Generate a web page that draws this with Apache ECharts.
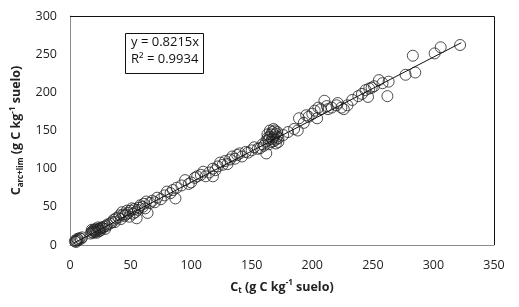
<!DOCTYPE html>
<html lang="es">
<head>
    <meta charset="UTF-8">
    <title>Carbono</title>
    <script src="https://cdn.jsdelivr.net/npm/echarts@6/dist/echarts.min.js"></script>
    <style>
        html, body { margin: 0; padding: 0; background: #fff; }
        #chart { width: 519px; height: 307px; }
    </style>
</head>
<body>
    <div id="chart"></div>
    <script>
// puntos: [Ct, Carc+lim]
const puntos = [
    [4,5],[5,6],[6,8],[7,7],[8,9],[9,8],[10,10],[6,6],[5,4],
    [17,15],[18,17],[19,16],[20,18],[21,17],[22,19],[20,20],[23,20],[24,21],[25,22],[19,19],[21,21],
    [22,16],[24,18],[26,23],[27,22],[28,24],[30,25],[31,27],[29,21],[18,20],[25,19],[23,23],
    [33,28],[35,30],[36,33],[38,35],[40,36],[42,34],[43,43],[45,38],[46,40],[48,42],[50,45],[52,41],
    [53,47],[55,35],[56,46],[58,52],[60,50],[62,48],[64,42],[66,55],[68,58],[70,56],[72,62],[75,60],
    [78,65],[80,70],[83,68],[85,72],[87,61],[88,75],
    [37,30],[41,39],[47,45],[49,37],[54,43],[44,40],[51,48],[57,49],[61,54],[63,57],
    [92,78],[95,85],[98,80],[100,82],[103,88],[105,90],[108,92],[110,96],[112,90],[115,95],[118,90],
    [118,100],[120,98],[122,103],[124,108],[126,105],[128,110],[130,106],[132,112],[134,116],[136,113],
    [138,118],[140,120],[142,116],[145,122],[147,121],[150,124],[152,128],[155,126],[157,127],[159,132],
    [160,130],[162,120],[162,136],
    [163,140],[164,138],[165,142],[166,135],[166,145],[167,139],[167,148],[168,141],[168,136],[169,144],
    [169,150],[170,138],[170,146],[171,142],[172,140],[165,150],[168,152],[171,148],[164,132],[172,135],
    [163,145],[170,133],
    [176,144],[180,148],[185,152],[188,150],[189,166],[193,160],[195,170],[197,168],[200,172],[202,176],
    [204,166],[205,180],[207,178],[210,189],[212,182],[213,178],[216,180],[220,183],[221,186],[224,180],
    [226,178],[229,183],[233,190],[238,195],[241,198],[244,203],[246,194],[247,205],[249,206],[251,208],
    [255,216],[258,212],[262,195],[263,214],[277,223],[283,248],[285,226],[301,251],[306,259],[322,262]
];

// extremos de la linea de tendencia (y = 0.8215x)
const tendencia = [[3, 2.5], [323, 265]];

const xTicks = [0, 50, 100, 150, 200, 250, 300, 350];
const yTicks = [0, 50, 100, 150, 200, 250, 300];

const fuente = 'Open Sans';

const estiloNombre = {
    b: { fontSize: 12.5, fontWeight: 'bold', color: '#222', fontFamily: fuente, lineHeight: 16 },
    s: { fontSize: 8, fontWeight: 'bold', color: '#222', fontFamily: fuente, verticalAlign: 'bottom', lineHeight: 8 },
    p: { fontSize: 8, fontWeight: 'bold', color: '#222', fontFamily: fuente, verticalAlign: 'top', lineHeight: 8 }
};

const chart = echarts.init(document.getElementById('chart'));

chart.setOption({
    animation: false,
    textStyle: { fontFamily: fuente },
    grid: { left: 70, top: 16, right: 25, bottom: 62, show: false, outerBoundsMode: 'none', containLabel: false },
    xAxis: {
        type: 'value',
        min: xTicks[0],
        max: xTicks[xTicks.length - 1],
        interval: 50,
        axisLine: { lineStyle: { color: '#8c8c8c', width: 1 } },
        axisTick: { show: false },
        splitLine: { show: false },
        axisLabel: { color: '#222', fontSize: 12.5, margin: 14 },
        name: '{b|C}{s|t}{b| (g C kg}{p|-1}{b| suelo)}',
        nameLocation: 'middle',
        nameGap: 34,
        nameTextStyle: { rich: estiloNombre }
    },
    yAxis: {
        type: 'value',
        min: yTicks[0],
        max: yTicks[yTicks.length - 1],
        interval: 50,
        axisLine: { show: true, lineStyle: { color: '#8c8c8c', width: 1 } },
        axisTick: { show: false },
        splitLine: { show: false },
        axisLabel: { color: '#222', fontSize: 12.5, margin: 13 },
        name: '{b|C}{s|arc+lim}{b| (g C kg}{p|-1}{b| suelo)}',
        nameLocation: 'middle',
        nameGap: 43,
        nameTextStyle: { rich: estiloNombre }
    },
    graphic: [
        // borde superior y derecho del area
        { type: 'polyline', shape: { points: [[70, 16.5], [494.5, 16.5], [494.5, 245]] },
          style: { stroke: '#111', lineWidth: 1, fill: null }, z: 10 },
        { type: 'rect', shape: { x: 125.5, y: 33.5, width: 78, height: 40 },
          style: { fill: '#fff', stroke: '#111', lineWidth: 1 }, z: 10 },
        { type: 'text', left: 131, top: 36, z: 11,
          style: { text: 'y = 0.8215x', font: '13px "Open Sans"', fill: '#111' } },
        { type: 'text', left: 131, top: 53, z: 11,
          style: { text: 'R² = 0.9934', font: '13px "Open Sans"', fill: '#111' } }
    ],
    series: [
        {
            type: 'scatter',
            data: puntos,
            symbol: 'circle',
            symbolSize: 11,
            itemStyle: { color: 'rgba(0,0,0,0)', borderColor: '#222', borderWidth: 1 }
        },
        {
            type: 'line',
            data: tendencia,
            symbol: 'none',
            lineStyle: { color: '#111', width: 1 },
            z: 3
        }
    ]
});
    </script>
</body>
</html>
